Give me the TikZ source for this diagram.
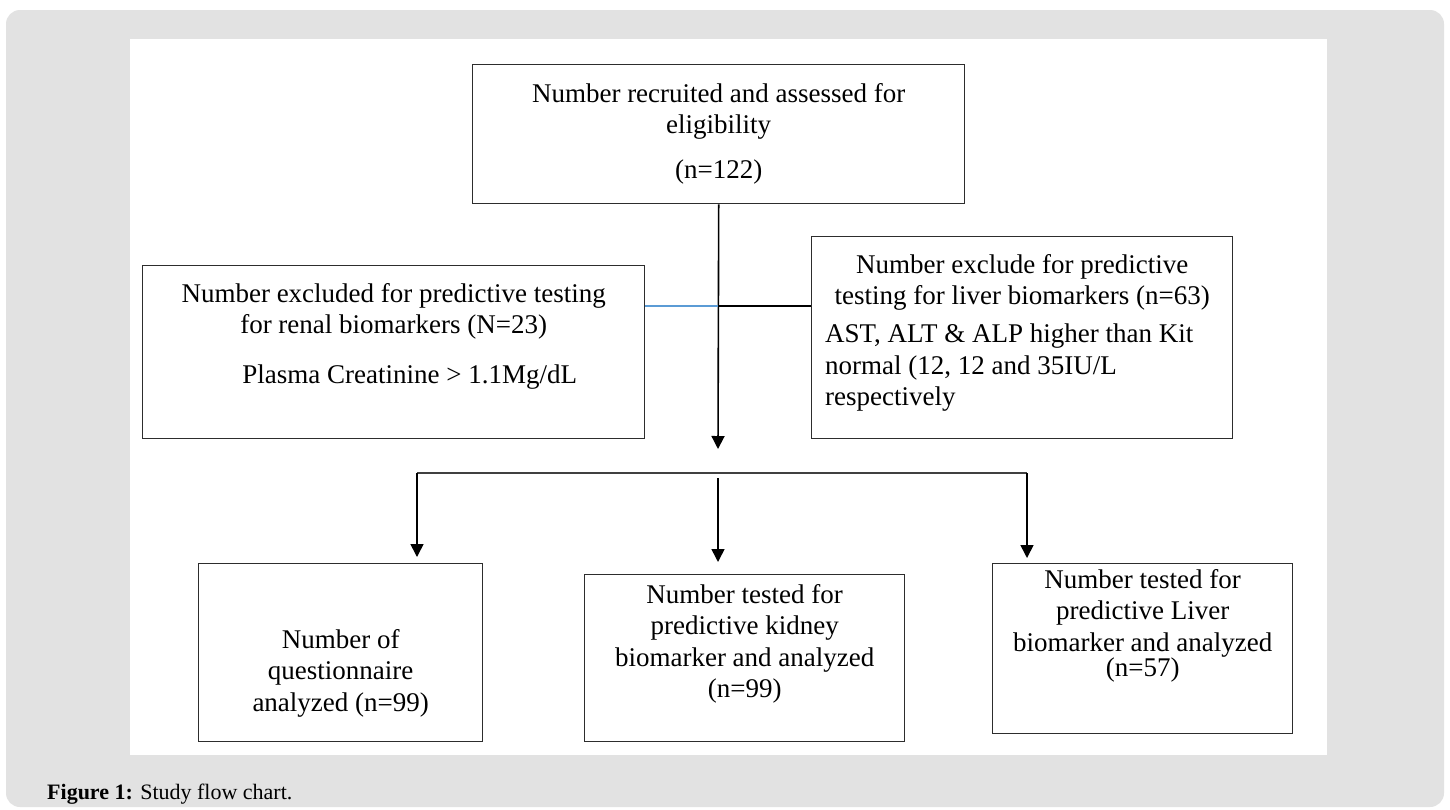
\documentclass[tikz,border=0pt]{standalone}
\usepackage{fontspec}
\setmainfont{Liberation Serif}
\usepackage{tikz}
\usetikzlibrary{arrows.meta,positioning}
\definecolor{panelgray}{RGB}{226,226,226}
\definecolor{boxline}{RGB}{45,45,45}
\definecolor{linkblue}{RGB}{91,155,213}

\begin{document}
\begin{tikzpicture}[x=1pt,y=-1pt,
  box/.style={draw=boxline, line width=1.4pt, rectangle, fill=white, inner sep=0pt},
  boxtxt/.style={align=center, inner sep=0pt, font=\fontsize{27}{31.5}\selectfont},
  flow/.style={line width=1.6pt, -{Triangle[width=13pt,length=13pt]}}]
\useasboundingbox (0,0) rectangle (1450,809);
% page and panel
\fill[white] (0,0) rectangle (1450,809);
\fill[panelgray, rounded corners=14pt] (6,10) rectangle (1444,807);
\fill[white] (130,39) rectangle (1327,755);

\node (caption) [anchor=base west, inner sep=0pt, font=\fontsize{22}{26}\selectfont] at (47,799) {\textbf{Figure 1:} Study flow chart.};

% boxes
\node (recruit) [box, minimum width=492pt, minimum height=139pt, anchor=north west] at (472,64) {};
\node (recruittxt) [boxtxt, below=19pt of recruit.north] {Number recruited and assessed for\\ eligibility\\[13pt] (n=122)};

\node (renal) [box, minimum width=502pt, minimum height=173pt, anchor=north west] at (142,265) {};
\node (renaltxt) [boxtxt, below=18pt of renal.north] {Number excluded for predictive testing\\ for renal biomarkers (N=23)\\[18pt] \hspace*{32pt}Plasma Creatinine > 1.1Mg/dL};

\node (liver) [box, minimum width=421pt, minimum height=202pt, anchor=north west] at (811,236) {};
\node (livertxt) [boxtxt, below=18pt of liver.north] {Number exclude for predictive\\ testing for liver biomarkers (n=63)};
\node (livernote) [boxtxt, align=left, anchor=north west] at (825,324) {AST, ALT \& ALP higher than Kit\\ normal (12, 12 and 35IU/L\\ respectively};

\node (quest) [box, minimum width=284pt, minimum height=178pt, anchor=north west] at (198,563) {};
\node (questtxt) [boxtxt, below=66pt of quest.north] {Number of\\ questionnaire\\ analyzed (n=99)};

\node (kidney) [box, minimum width=320pt, minimum height=167pt, anchor=north west] at (584,574) {};
\node (kidneytxt) [boxtxt, below=10pt of kidney.north] {Number tested for\\ predictive kidney\\ biomarker and analyzed\\ (n=99)};

\node (livertest) [box, minimum width=300pt, minimum height=170pt, anchor=north west] at (992,563) {};
\node (livertesttxt) [boxtxt, below=6pt of livertest.north] {Number tested for\\ predictive Liver\\ biomarker and analyzed\\[-6pt] (n=57)};

% connectors
\coordinate (junc) at (718,306);
\coordinate (mainend) at (718,449);
\draw[flow] (recruit.south) -- (mainend);
\draw[linkblue, line width=1.2pt] (renal.east |- junc) -- (junc);
\draw[line width=1.4pt] (junc) -- (liver.west |- junc);

\coordinate (barL) at (417,473);
\coordinate (barR) at (1027,473);
\coordinate (midtop) at (718,478);
\draw[black!75, line width=2pt] (barL) -- (barR);
\draw[flow, shorten >=6pt] (barL) -- (barL |- quest.north);
\draw[flow, shorten >=12pt] (midtop) -- (midtop |- kidney.north);
\draw[flow, shorten >=5pt] (barR) -- (barR |- livertest.north);
\end{tikzpicture}
\end{document}
